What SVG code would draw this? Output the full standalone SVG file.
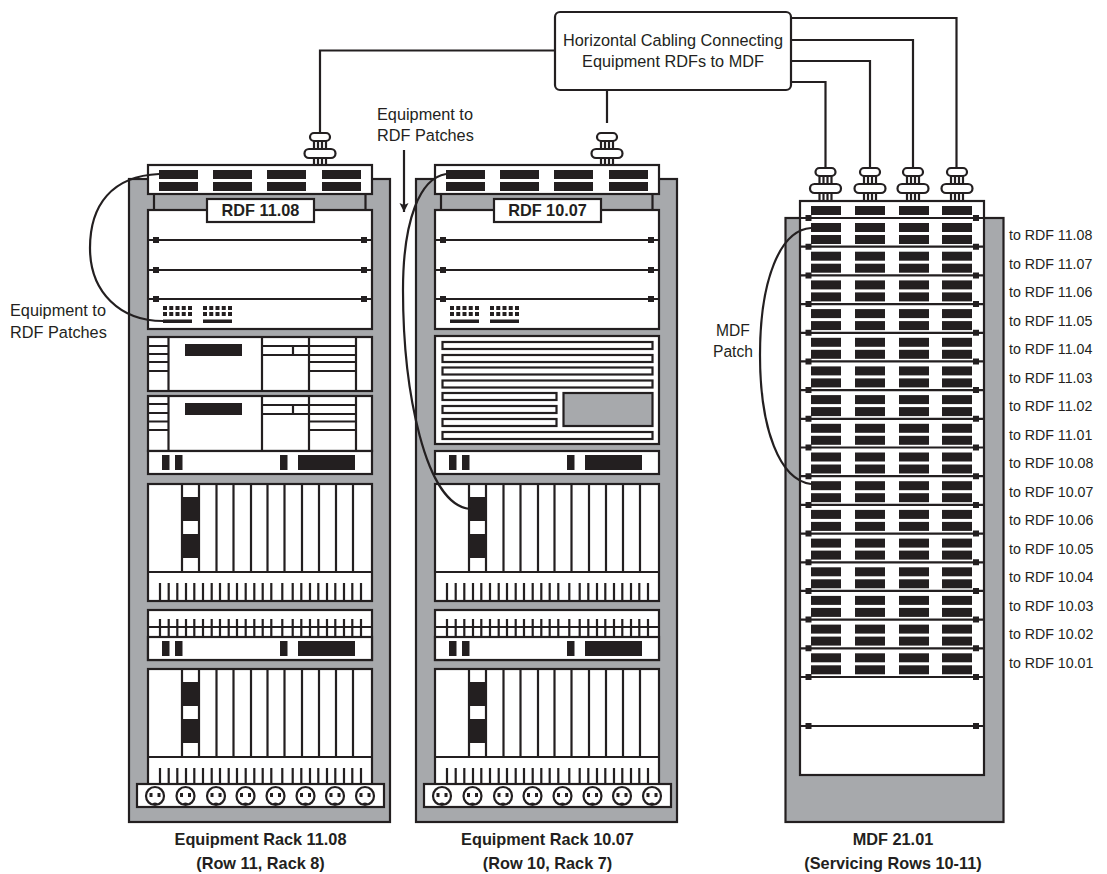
<svg xmlns="http://www.w3.org/2000/svg" xmlns:xlink="http://www.w3.org/1999/xlink" width="1107" height="874" viewBox="0 0 1107 874">
<style>
text{font-family:"Liberation Sans",Arial,sans-serif;fill:#231f20;font-size:16.3px}
.c{text-anchor:middle}
.b{font-weight:bold;font-size:16.300px}
.m{font-size:15.600px}
.r{font-size:14.200px}
.s{fill:none;stroke:#231f20;stroke-width:2.200}
.w{fill:#fff;stroke:#231f20;stroke-width:2.200}
.g{fill:#a7a9ac;stroke:#231f20;stroke-width:2.200}
.k{fill:#231f20;stroke:none}
.t{fill:none;stroke:#231f20;stroke-width:2.200}
</style>
<defs>
<path id="ticks" class="s" d="M160 0v17M168.700 0v17M177.300 0v17M186 0v17M194.300 0v17M203 0v17M211.700 0v17M220 0v17M228.700 0v17M237 0v17M245.700 0v17M254.300 0v17M262.700 0v17M271.300 0v17M282.300 0v17M292.700 0v17M301.300 0v17M310 0v17M318.300 0v17M327 0v17M335.300 0v17M344 0v17M352.300 0v17M361 0v17"/>
<g id="gland">
<path class="s" d="M-6 8v9M-2 8v9M2 8v9M6 8v9M-6 24v9M-2 24v9M2 24v9M6 24v9"/>
<rect class="w" x="-10" y="0" width="20" height="8" rx="4"/>
<rect class="w" x="-15.500" y="16" width="31" height="9" rx="4.500"/>
</g>
<g id="ports">
<rect class="k" x="159" y="170" width="39" height="9"/><rect class="k" x="159" y="182" width="39" height="9"/>
<rect class="k" x="213" y="170" width="39" height="9"/><rect class="k" x="213" y="182" width="39" height="9"/>
<rect class="k" x="267" y="170" width="39" height="9"/><rect class="k" x="267" y="182" width="39" height="9"/>
<rect class="k" x="322" y="170" width="39" height="9"/><rect class="k" x="322" y="182" width="39" height="9"/>
</g>
<g id="frame">
<rect class="g" x="129" y="179" width="261" height="643"/>
<rect class="w" x="148" y="165" width="224" height="29"/>
<use xlink:href="#ports" href="#ports"/>
<path class="s" d="M154 194v16M365.500 194v16"/>
<rect class="w" x="148" y="210" width="224" height="119"/>
<path class="s" d="M148 240H372M148 270H372M148 299H372"/>
<path class="k" d="M153 237h6v6h-6zM361 237h6v6h-6zM153 267h6v6h-6zM361 267h6v6h-6zM153 296h6v6h-6zM361 296h6v6h-6z"/>
<path fill="none" stroke="#231f20" stroke-width="4" stroke-dasharray="4 2.250" d="M163 308h30M163 314h30M203 308h30M203 314h30"/>
<path class="k" d="M163 319.500h29v3.500h-29zM203 319.500h29v3.500h-29z"/>
</g>
<g id="small">
<rect class="w" x="148" y="451" width="224" height="23"/>
<path class="k" d="M162 455h7.500v15H162zM175 455h7.500v15H175zM280 455h7.500v15H280zM298 455h57v15H298z"/>
</g>
<g id="card">
<rect class="w" x="148" y="484" width="224" height="117"/>
<path class="s" d="M148 572H372M182 484v88M199 484v88M216.500 484v88M233.500 484v88M251 484v88M267.500 484v88M284.500 484v88M302 484v88M319 484v88M336 484v88M353 484v88"/>
<path class="k" d="M181 497h19v24h-19zM181 534h19v24h-19z"/>
<use xlink:href="#ticks" href="#ticks" y="583"/>
</g>
<g id="ticked">
<rect class="w" x="148" y="610" width="224" height="50"/>
<path class="s" d="M148 627H372M148 637H372"/>
<use xlink:href="#ticks" href="#ticks" y="619"/>
</g>
<g id="outlet">
<circle class="w" r="9"/>
<path class="k" d="M-5.500-3h3v4h-3zM2.500-3h3v4h-3zM-3.500 8.500a4 4 0 0 1 7 0z"/>
</g>
<g id="strip">
<rect class="w" x="137" y="784" width="247" height="23"/>
<use xlink:href="#outlet" href="#outlet" x="155" y="796"/><use xlink:href="#outlet" href="#outlet" x="185.500" y="796"/><use xlink:href="#outlet" href="#outlet" x="216" y="796"/><use xlink:href="#outlet" href="#outlet" x="245.500" y="796"/><use xlink:href="#outlet" href="#outlet" x="275.500" y="796"/><use xlink:href="#outlet" href="#outlet" x="305.500" y="796"/><use xlink:href="#outlet" href="#outlet" x="335" y="796"/><use xlink:href="#outlet" href="#outlet" x="365" y="796"/>
</g>
<g id="mports">
<rect class="k" x="811" y="0" width="30" height="9"/><rect class="k" x="855" y="0" width="30" height="9"/><rect class="k" x="899" y="0" width="30" height="9"/><rect class="k" x="942" y="0" width="30" height="9"/>
</g>
<g id="mline">
<path class="s" d="M800 0H984"/>
<path class="k" d="M805.500-3h6v6h-6zM973-3h6v6h-6z"/>
</g>
<g id="mrow">
<use xlink:href="#mline" href="#mline"/>
<use xlink:href="#mports" href="#mports" y="5"/>
<use xlink:href="#mports" href="#mports" y="17"/>
</g>
<marker id="arrow" markerUnits="userSpaceOnUse" markerWidth="10" markerHeight="11" refX="9" refY="4.500" orient="auto"><path d="M0 0L9 4.500L0 9L2 4.500z" fill="#231f20"/></marker>
</defs>

<g id="rack-11-08">
<use xlink:href="#frame" href="#frame"/>
<rect class="w" x="207" y="199" width="107" height="23"/>
<text class="b c" x="260.500" y="216">RDF 11.08</text>
<g id="server-a">
<rect class="w" x="148" y="337" width="224" height="54"/>
<path class="s" d="M168.500 337v54M262 337v54M309 337v54M356 337v54M148 346h20M148 354h20M148 362h20M148 371h20M262 346h47M262 355h47M293 346v9M309 346h47M309 355h47M309 362h47M309 371h47"/>
<rect class="k" x="185" y="344" width="57" height="12"/>
</g>
<g id="server-b">
<rect class="w" x="148" y="396" width="224" height="55"/>
<path class="s" d="M168.500 396v55M262 396v55M309 396v55M356 396v55M148 404h20M148 413h20M148 421.500h20M148 430h20M262 405h47M262 414h47M293 405v9M309 405h47M309 414h47M309 421.500h47M309 430h47"/>
<rect class="k" x="185" y="403" width="57" height="12"/>
</g>
<use xlink:href="#small" href="#small"/>
<use xlink:href="#card" href="#card"/>
<use xlink:href="#ticked" href="#ticked"/>
<use xlink:href="#small" href="#small" y="186"/>
<use xlink:href="#card" href="#card" y="185"/>
<use xlink:href="#strip" href="#strip"/>
<use xlink:href="#gland" href="#gland" x="320" y="133"/>
<text class="b c" x="260.500" y="845">Equipment Rack 11.08</text>
<text class="b c" x="260.500" y="869">(Row 11, Rack 8)</text>
</g>

<g id="rack-10-07">
<use xlink:href="#frame" href="#frame" x="287"/>
<rect class="w" x="494" y="199" width="107" height="23"/>
<text class="b c" x="547.500" y="216">RDF 10.07</text>
<g id="server-c">
<rect class="w" x="435" y="336" width="224" height="108"/>
<rect class="w" x="442.500" y="342" width="210" height="7"/>
<rect class="w" x="442.500" y="355" width="210" height="7"/>
<rect class="w" x="442.500" y="367.500" width="210" height="7"/>
<rect class="w" x="442.500" y="380.500" width="210" height="7"/>
<rect class="w" x="442.500" y="393" width="114" height="7"/>
<rect class="w" x="442.500" y="406" width="114" height="7"/>
<rect class="w" x="442.500" y="419" width="114" height="7"/>
<rect class="w" x="442.500" y="432" width="210" height="7"/>
<rect class="g" x="563.500" y="393" width="89" height="33"/>
</g>
<use xlink:href="#small" href="#small" x="287"/>
<use xlink:href="#card" href="#card" x="287"/>
<use xlink:href="#ticked" href="#ticked" x="287"/>
<use xlink:href="#small" href="#small" x="287" y="186"/>
<use xlink:href="#card" href="#card" x="287" y="185"/>
<use xlink:href="#strip" href="#strip" x="287"/>
<use xlink:href="#gland" href="#gland" x="607" y="133"/>
<text class="b c" x="547.500" y="845">Equipment Rack 10.07</text>
<text class="b c" x="547.500" y="869">(Row 10, Rack 7)</text>
</g>

<g id="mdf-21-01">
<rect class="g" x="785.500" y="218" width="218" height="604"/>
<rect class="w" x="800" y="201" width="184" height="574"/>
<use xlink:href="#mports" href="#mports" y="206"/>
<use xlink:href="#mrow" href="#mrow" y="218"/>
<use xlink:href="#mrow" href="#mrow" y="246.700"/>
<use xlink:href="#mrow" href="#mrow" y="275.400"/>
<use xlink:href="#mrow" href="#mrow" y="304.100"/>
<use xlink:href="#mrow" href="#mrow" y="332.800"/>
<use xlink:href="#mrow" href="#mrow" y="361.400"/>
<use xlink:href="#mrow" href="#mrow" y="390.100"/>
<use xlink:href="#mrow" href="#mrow" y="418.800"/>
<use xlink:href="#mrow" href="#mrow" y="447.500"/>
<use xlink:href="#mrow" href="#mrow" y="476.200"/>
<use xlink:href="#mrow" href="#mrow" y="504.900"/>
<use xlink:href="#mrow" href="#mrow" y="533.600"/>
<use xlink:href="#mrow" href="#mrow" y="562.300"/>
<use xlink:href="#mrow" href="#mrow" y="590.900"/>
<use xlink:href="#mrow" href="#mrow" y="619.600"/>
<use xlink:href="#mrow" href="#mrow" y="648.300"/>
<use xlink:href="#mline" href="#mline" y="677"/>
<use xlink:href="#mline" href="#mline" y="726"/>
<use xlink:href="#gland" href="#gland" x="825.500" y="168"/>
<use xlink:href="#gland" href="#gland" x="870" y="168"/>
<use xlink:href="#gland" href="#gland" x="913" y="168"/>
<use xlink:href="#gland" href="#gland" x="957" y="168"/>
<text class="b c" x="893" y="845">MDF 21.01</text>
<text class="b c" x="893" y="869">(Servicing Rows 10-11)</text>
<g id="mdf-labels">
<text class="r" x="1009" y="240">to RDF 11.08</text>
<text class="r" x="1009" y="268.500">to RDF 11.07</text>
<text class="r" x="1009" y="297">to RDF 11.06</text>
<text class="r" x="1009" y="325.500">to RDF 11.05</text>
<text class="r" x="1009" y="354">to RDF 11.04</text>
<text class="r" x="1009" y="382.500">to RDF 11.03</text>
<text class="r" x="1009" y="411">to RDF 11.02</text>
<text class="r" x="1009" y="439.500">to RDF 11.01</text>
<text class="r" x="1009" y="468">to RDF 10.08</text>
<text class="r" x="1009" y="496.500">to RDF 10.07</text>
<text class="r" x="1009" y="525">to RDF 10.06</text>
<text class="r" x="1009" y="553.500">to RDF 10.05</text>
<text class="r" x="1009" y="582">to RDF 10.04</text>
<text class="r" x="1009" y="610.500">to RDF 10.03</text>
<text class="r" x="1009" y="639">to RDF 10.02</text>
<text class="r" x="1009" y="667.500">to RDF 10.01</text>
</g>
</g>

<g id="cabling-box">
<rect class="w" x="555" y="12" width="236" height="78" rx="5"/>
<text class="c" x="673" y="46">Horizontal Cabling Connecting</text>
<text class="c" x="673" y="67">Equipment RDFs to MDF</text>
</g>

<g id="connectors">
<path class="t" d="M555 50.500H320V133"/>
<path class="t" d="M607 90V123"/>
<path class="t" d="M791 18H956.500V168"/>
<path class="t" d="M791 40H913V168"/>
<path class="t" d="M791 61H870V168"/>
<path class="t" d="M791 82H825.500V168"/>
<path class="t" d="M404 150V212" marker-end="url(#arrow)"/>
<path class="t" d="M159 174C112 176 90 205 90 248C90 292 120 321 163 321"/>
<path class="t" d="M446 174C420 178 403 220 403 290C403 390 425 505 470 509"/>
<path class="t" d="M811 228C780 230 760 280 760 355C760 430 780 480 811 484"/>
</g>

<g id="patch-labels">
<text x="377" y="120">Equipment to</text>
<text x="377" y="141">RDF Patches</text>
<text x="10" y="316">Equipment to</text>
<text x="10" y="338">RDF Patches</text>
<text class="c m" x="733" y="336">MDF</text>
<text class="c m" x="733" y="357">Patch</text>
</g>
</svg>
